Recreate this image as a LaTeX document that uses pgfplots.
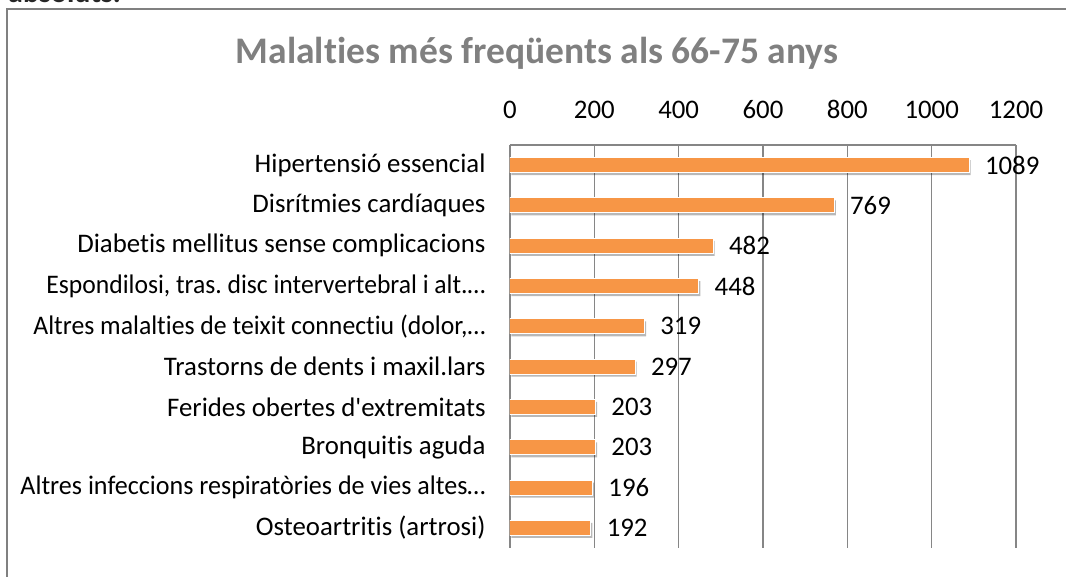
\documentclass[border=0pt]{standalone}
\usepackage{fontspec}
\setmainfont{Carlito}[Ligatures={NoCommon}]
\usepackage{graphicx}
\usepackage{pgfplots}
\pgfplotsset{compat=1.18}
\definecolor{barorange}{HTML}{F79646}
\definecolor{gridgray}{HTML}{868686}
\definecolor{titlegray}{HTML}{808080}
\frenchspacing
\begin{document}
\begin{tikzpicture}
\useasboundingbox (0pt,0pt) rectangle (1066pt,576pt);
\clip (0pt,0pt) rectangle (1066pt,576pt);
\fill[white] (0pt,0pt) rectangle (1066pt,576pt);
\node[anchor=base west, font=\fontsize{30}{36}\selectfont\bfseries, text=black!85, inner sep=0] at (8pt,573pt) {absoluts.};
\draw[titlegray, line width=2pt] (7pt,-10pt) -- (7pt,567pt) -- (1080pt,567pt);
\node[font=\fontsize{37.5}{44}\selectfont\bfseries, text=titlegray] at (537pt,523pt) {Malalties més freqüents als 66-75 anys};
\begin{axis}[
  at={(510pt,28pt)}, anchor=south west, scale only axis,
  width=506pt, height=403pt,
  xmin=0, xmax=1200, ymin=-0.5, ymax=9.5, y dir=reverse,
  axis x line=top, axis y line=left,
  axis line style={gridgray, line width=1.5pt, -},
  xtick={0,200,...,1200}, ytick={0,...,9},
  yticklabels={Hipertensió essencial, Disrítmies cardíaques, Diabetis mellitus sense complicacions, {\resizebox{439pt}{\height}{Espondilosi, tras. disc intervertebral i alt.…}}, {\resizebox{452pt}{\height}{Altres malalties de teixit connectiu (dolor,…}}, Trastorns de dents i maxil.lars, Ferides obertes d\textquotesingle extremitats, Bronquitis aguda, {\resizebox{465pt}{\height}{Altres infeccions respiratòries de vies altes…}}, Osteoartritis (artrosi)},
  xmajorgrids, grid style={gridgray, line width=1.5pt},
  major tick length=0,
  tick label style={font=\fontsize{26.8}{31}\selectfont},
  xticklabel style={yshift=23pt},
  yticklabel style={xshift=-21pt},
  /pgf/number format/assume math mode=true,
  /pgf/number format/set thousands separator={},
  xbar, bar width=15pt, bar shift=0pt,
]
\addplot[fill=black, opacity=0.28, draw=none, xshift=1.5pt, yshift=-2.5pt, forget plot] coordinates {
(1089,0) (769,1) (482,2) (448,3) (319,4) (297,5) (203,6) (203,7) (196,8) (192,9)};
\addplot[fill=barorange, draw=white, line width=1pt,
  nodes near coords,
  every node near coord/.append style={font=\fontsize{26.8}{31}\selectfont, text=black, anchor=west, xshift=12pt}] coordinates {
(1089,0) (769,1) (482,2) (448,3) (319,4) (297,5) (203,6) (203,7) (196,8) (192,9)};
\end{axis}
\end{tikzpicture}
\end{document}
